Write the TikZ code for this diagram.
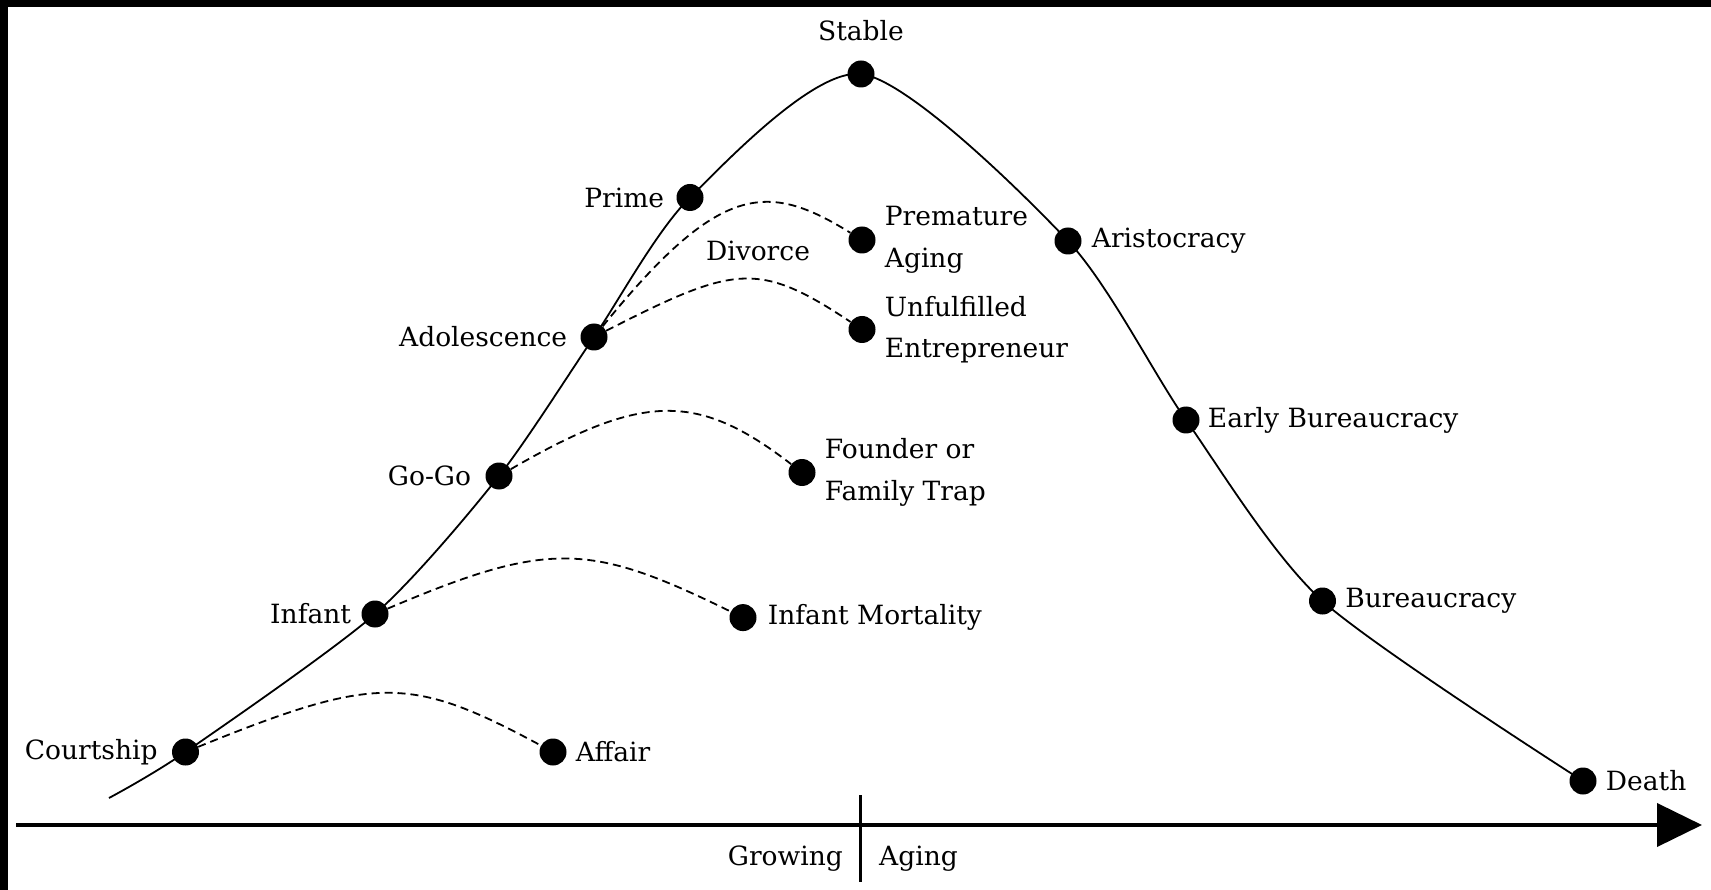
\documentclass[tikz,border=0pt]{standalone}
\usepackage{fontspec}
\setmainfont{DejaVu Serif}
\usetikzlibrary{arrows.meta,positioning}
\tikzset{
  stage/.style={circle, fill=black, inner sep=0pt, minimum size=27pt},
  stagelabel/.style={inner sep=0pt, align=left, font=\fontsize{26.5}{41.5}\selectfont},
  life/.style={line width=1.8pt},
  trap/.style={line width=1.8pt, dash pattern=on 8pt off 5pt},
  timeline/.style={line width=4pt, -{Triangle[length=45pt,width=43pt]}},
  divider/.style={line width=3pt}
}
\begin{document}
\begin{tikzpicture}[x=1pt, y=1pt]
  \useasboundingbox (0,0) rectangle (1711,-890);
  \fill (0,0) rectangle (1711,-7);
  \fill (0,0) rectangle (8,-890);

  % growing side
  \coordinate (origin) at (109,-798);
  \node[stage] (court) at (185.5,-752) {};
  \node[stage] (infant) at (375,-614) {};
  \node[stage] (gogo) at (499,-476) {};
  \node[stage] (adol) at (594,-337) {};
  \node[stage] (prime) at (690,-197.5) {};
  \node[stage] (stable) at (861,-74) {};
  % aging side
  \node[stage] (arist) at (1068,-241) {};
  \node[stage] (early) at (1186,-420) {};
  \node[stage] (bur) at (1322.5,-601) {};
  \node[stage] (death) at (1583,-781) {};
  % traps
  \node[stage] (affair) at (553,-752) {};
  \node[stage] (mortality) at (743,-617.6) {};
  \node[stage] (founder) at (802,-472.5) {};
  \node[stage] (unfulfilled) at (862,-329.5) {};
  \node[stage] (premature) at (862,-240) {};

  \node[stagelabel, left=14pt of court] {Courtship};
  \node[stagelabel, left=10pt of infant] {Infant};
  \node[stagelabel, left=14pt of gogo] {Go-Go};
  \node[stagelabel, left=13pt of adol] {Adolescence};
  \node[stagelabel, left=12pt of prime] {Prime};
  \node[stagelabel, above=19pt of stable] {Stable};
  \node[stagelabel, right=10pt of arist] {Aristocracy};
  \node[stagelabel, right=8pt of early] {Early Bureaucracy};
  \node[stagelabel, right=9pt of bur] {Bureaucracy};
  \node[stagelabel, right=9pt of death] {Death};
  \node[stagelabel, right=9pt of affair] {Affair};
  \node[stagelabel, right=11pt of mortality] {Infant Mortality};
  \node[stagelabel, right=9pt of founder] {Founder or\\Family Trap};
  \node[stagelabel, right=9pt of unfulfilled] {Unfulfilled\\Entrepreneur};
  \node[stagelabel, right=9pt of premature] {Premature\\Aging};
  \node[stagelabel] (divorce) at (758,-251) {Divorce};

  \draw[life] plot[smooth, tension=0.45] coordinates {(origin) (court.center) (infant.center)
    (gogo.center) (adol.center) (prime.center) (stable.center) (arist.center)
    (early.center) (bur.center) (death.center)};

  \draw[trap] (court) .. controls +(190,77) and +(-143,77) .. (affair);
  \draw[trap] (infant) .. controls +(174,74) and +(-153,75) .. (mortality);
  \draw[trap] (gogo) .. controls +(145,84) and +(-104,80) .. (founder);
  \draw[trap] (adol) .. controls +(141,72) and +(-104,69) .. (unfulfilled);
  \draw[trap] (adol) .. controls +(125,154) and +(-95,59) .. (premature);

  % time axis
  \coordinate (axstart) at (16,-825);
  \coordinate (axend) at (1702,-825);
  \draw[timeline] (axstart) -- (axend);
  \coordinate (divtop) at (860,-795);
  \coordinate (divbot) at (860,-882);
  \draw[divider] (divtop) -- (divbot);
  \node[stagelabel, anchor=base east] (growing) at (843,-865) {Growing};
  \node[stagelabel, anchor=base west] (aging) at (879,-865) {Aging};
\end{tikzpicture}
\end{document}
